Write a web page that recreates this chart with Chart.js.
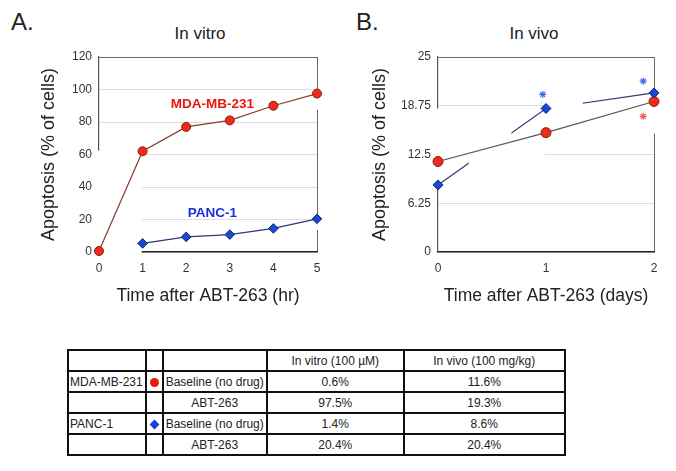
<!DOCTYPE html>
<html>
<head>
<meta charset="utf-8">
<script src="https://cdn.jsdelivr.net/npm/chart.js@4.4.1/dist/chart.umd.min.js"></script>
<style>
    body { margin: 0; background: #fff; width: 676px; height: 471px; position: relative; overflow: hidden;
           font-family: "Liberation Sans", Arial, sans-serif; color: #222; }
    .panel { position: absolute; font-size: 24px; line-height: 24px; }
    .ttl { position: absolute; font-size: 17px; line-height: 17px; transform: translateX(-50%); white-space: nowrap; }
    .wrap { position: absolute; top: 0; height: 315px; }
    #wrapA { left: 0; width: 340px; }
    #wrapB { left: 340px; width: 336px; }
    table { position: absolute; left: 67px; top: 349px; border-collapse: collapse; table-layout: fixed;
            font-size: 12px; color: #222; }
    td { border: 2px solid #111; height: 19px; padding: 0 2px; text-align: center; white-space: nowrap; overflow: hidden; }
    td.name { text-align: left; padding-left: 1px; }
    .dot { display: inline-block; width: 9px; height: 9px; border-radius: 50%; background: #e8190c; vertical-align: middle; }
    .dia { display: inline-block; width: 7px; height: 7px; background: #1a3fe0; transform: rotate(45deg); vertical-align: middle; }
</style>
</head>
<body>
<div class="panel" style="left:11px;top:10px">A.</div>
<div class="panel" style="left:356px;top:10px">B.</div>
<div class="ttl" style="left:200px;top:25px">In vitro</div>
<div class="ttl" style="left:534px;top:25px">In vivo</div>
<div class="wrap" id="wrapA"><canvas id="vitroChart"></canvas></div>
<div class="wrap" id="wrapB"><canvas id="vivoChart"></canvas></div>
<table id="summary">
    <colgroup><col style="width:76px"><col style="width:17px"><col style="width:102px"><col style="width:137px"><col style="width:161px"></colgroup>
    <tbody></tbody>
</table>
<script>
// In vitro (hours)
const vitroHours = [0, 1, 2, 3, 4, 5];
const vitroMDA = [0.6, 62, 77, 81, 90, 97.5];
const vitroPancHours = [1, 2, 3, 4, 5];
const vitroPANC = [5.3, 9.3, 10.7, 14.5, 20.4];
const vitroYTicks = [0, 20, 40, 60, 80, 100, 120];

// In vivo (days)
const vivoDays = [0, 1, 2];
const vivoMDA = [11.6, 15.3, 19.3];
const vivoPANC = [8.6, 18.4, 20.4];
const vivoYTicks = [0, 6.25, 12.5, 18.75, 25];
const vivoStarsBlue = [{ x: 0.97, y: 20.2 }, { x: 1.9, y: 21.9 }];
const vivoStarsRed = [{ x: 1.9, y: 17.4 }];

// Summary table
const cellLines = ['MDA-MB-231', 'PANC-1'];
const conditions = ['Baseline (no drug)', 'ABT-263'];
const columnHeads = ['In vitro (100 µM)', 'In vivo (100 mg/kg)'];
const vitroPct = [[0.6, 97.5], [1.4, 20.4]];
const vivoPct = [[11.6, 19.3], [8.6, 20.4]];

const RED = '#ee2a1a', RED_EDGE = '#8a1c10';
const BLUE = '#1c46d6', BLUE_EDGE = '#12286e';

const pts = (xs, ys) => xs.map((x, i) => ({ x: x, y: ys[i] }));

// paint white boxes (data units) over grid / lines, like the gaps in the original figure
function paintRects(chart, rects) {
    const xs = chart.scales.x, ys = chart.scales.y, ctx = chart.ctx;
    ctx.save();
    ctx.fillStyle = '#fff';
    rects.forEach(r => {
        const x0 = xs.getPixelForValue(r[0]), x1 = xs.getPixelForValue(r[1]);
        const y0 = ys.getPixelForValue(r[2]), y1 = ys.getPixelForValue(r[3]);
        ctx.fillRect(Math.min(x0, x1), Math.min(y0, y1), Math.abs(x1 - x0), Math.abs(y1 - y0));
    });
    ctx.restore();
}

const figurePlugin = {
    id: 'figure',
    beforeDatasetsDraw(chart, args, opts) {
        paintRects(chart, opts.gridMasks || []);
    },
    afterDatasetDraw(chart, args, opts) {
        if (opts.lineMask && args.index === opts.lineMask.dataset) paintRects(chart, opts.lineMask.rects);
    },
    afterDatasetsDraw(chart, args, opts) {
        const ctx = chart.ctx;
        (opts.labels || []).forEach(l => {
            ctx.save();
            ctx.font = 'bold 13.5px "Liberation Sans", Arial, sans-serif';
            ctx.fillStyle = l.color;
            ctx.textAlign = 'center';
            ctx.textBaseline = 'middle';
            ctx.fillText(l.text, chart.scales.x.getPixelForValue(l.x), chart.scales.y.getPixelForValue(l.y));
            ctx.restore();
        });
    }
};

function axes(xTicks, yTicks, xTitle, yWidth, yTitlePad) {
    const xMax = xTicks[xTicks.length - 1], yMax = yTicks[yTicks.length - 1];
    return {
        x: {
            type: 'linear', min: xTicks[0], max: xMax,
            afterBuildTicks: s => { s.ticks = xTicks.map(v => ({ value: v })); },
            afterFit: s => { s.height = 63; },
            grid: { drawTicks: false, color: c => (c.tick && c.tick.value === xMax) ? '#6a6a6a' : 'rgba(0,0,0,0)' },
            border: { color: '#222', width: 1.5 },
            ticks: { padding: 9, color: '#333', font: { size: 12 }, callback: v => String(v) },
            title: { display: true, text: xTitle, color: '#222', font: { size: 17.5 }, padding: { top: 0, bottom: 8 } }
        },
        y: {
            min: yTicks[0], max: yMax,
            afterBuildTicks: s => { s.ticks = yTicks.map(v => ({ value: v })); },
            afterFit: s => { s.width = yWidth; },
            grid: { drawTicks: false, color: c => (c.tick && c.tick.value === yMax) ? '#6a6a6a' : '#dedede' },
            border: { color: '#555', width: 1.2 },
            ticks: { padding: 7, color: '#333', font: { size: 12 }, callback: v => String(v) },
            title: { display: true, text: 'Apoptosis (% of cells)', color: '#222', font: { size: 18 }, padding: { top: yTitlePad, bottom: 0 } }
        }
    };
}

const baseOptions = {
    responsive: true,
    maintainAspectRatio: false,
    animation: false,
    events: [],
    plugins: { legend: { display: false }, tooltip: { enabled: false } }
};

Chart.defaults.font.family = '"Liberation Sans", Arial, sans-serif';

// Panel A: in vitro
new Chart(document.getElementById('vitroChart'), {
    type: 'line',
    data: {
        datasets: [{
            data: pts(vitroHours, vitroMDA),
            borderColor: '#8b3a32', borderWidth: 1.2,
            pointRadius: 4.5, pointBackgroundColor: RED, pointBorderColor: RED_EDGE, pointBorderWidth: 1,
            clip: false
        }, {
            data: pts(vitroPancHours, vitroPANC),
            borderColor: '#263c7a', borderWidth: 1.2,
            pointStyle: 'rectRot', pointRadius: 4.8, pointBackgroundColor: BLUE, pointBorderColor: BLUE_EDGE, pointBorderWidth: 1,
            clip: false
        }]
    },
    options: Object.assign({}, baseOptions, {
        layout: { autoPadding: false, padding: { top: 57, right: 23, left: 0, bottom: 0 } },
        scales: axes(vitroHours, vitroYTicks, 'Time after ABT-263 (hr)', 99, 38),
        plugins: Object.assign({}, baseOptions.plugins, {
            figure: {
                gridMasks: [[-0.03, 0.98, -1.3, 62.4], [4.95, 5.05, 87.5, 95.5], [4.95, 5.05, 13.5, 18.8]],
                labels: [
                    { text: 'MDA-MB-231', x: 2.6, y: 91, color: '#e8190c' },
                    { text: 'PANC-1', x: 2.6, y: 24, color: '#1a2ee0' }
                ]
            }
        })
    }),
    plugins: [figurePlugin]
});

// Panel B: in vivo
new Chart(document.getElementById('vivoChart'), {
    type: 'line',
    data: {
        datasets: [{
            // PANC-1 connecting line (drawn first, partly hidden)
            data: pts(vivoDays, vivoPANC),
            borderColor: '#2b3f78', borderWidth: 1.2, pointRadius: 0, order: 10, clip: false
        }, {
            data: pts(vivoDays, vivoMDA),
            borderColor: '#555', borderWidth: 1.2,
            pointRadius: 5, pointBackgroundColor: RED, pointBorderColor: RED_EDGE, pointBorderWidth: 1,
            order: 5, clip: false
        }, {
            data: pts(vivoDays, vivoPANC),
            showLine: false,
            pointStyle: 'rectRot', pointRadius: 5, pointBackgroundColor: BLUE, pointBorderColor: BLUE_EDGE, pointBorderWidth: 1,
            order: 1, clip: false
        }, {
            data: vivoStarsBlue, showLine: false,
            pointStyle: 'star', pointRadius: 3.5, pointBorderColor: '#3f6fe0', pointBorderWidth: 1.2, order: 0, clip: false
        }, {
            data: vivoStarsRed, showLine: false,
            pointStyle: 'star', pointRadius: 3.5, pointBorderColor: '#f05a5a', pointBorderWidth: 1.2, order: 0, clip: false
        }]
    },
    options: Object.assign({}, baseOptions, {
        layout: { autoPadding: false, padding: { top: 57, right: 22, left: 0, bottom: 0 } },
        scales: axes(vivoDays, vivoYTicks, 'Time after ABT-263 (days)', 98, 29),
        plugins: Object.assign({}, baseOptions.plugins, {
            figure: {
                gridMasks: [[-0.02, 0.99, 9.0, 18.4], [1.0, 1.97, 17.5, 20.0], [1.97, 2.03, 15.2, 20.2]],
                lineMask: { dataset: 0, rects: [[0.285, 0.68, 10.5, 16.2], [1.03, 1.34, 17.8, 19.6]] }
            }
        })
    }),
    plugins: [figurePlugin]
});

// Summary table
const tbody = document.querySelector('#summary tbody');
const addRow = cells => {
    const tr = document.createElement('tr');
    cells.forEach(c => {
        const td = document.createElement('td');
        if (c.cls) td.className = c.cls;
        if (c.html) td.innerHTML = c.html; else td.textContent = c.text || '';
        tr.appendChild(td);
    });
    tbody.appendChild(tr);
};
addRow([{}, {}, {}, { text: columnHeads[0] }, { text: columnHeads[1] }]);
cellLines.forEach((name, i) => {
    conditions.forEach((cond, j) => {
        addRow([
            { text: j === 0 ? name : '', cls: 'name' },
            { html: j === 0 ? (i === 0 ? '<span class="dot"></span>' : '<span class="dia"></span>') : '' },
            { text: cond },
            { text: vitroPct[i][j] + '%' },
            { text: vivoPct[i][j] + '%' }
        ]);
    });
});
</script>
</body>
</html>
